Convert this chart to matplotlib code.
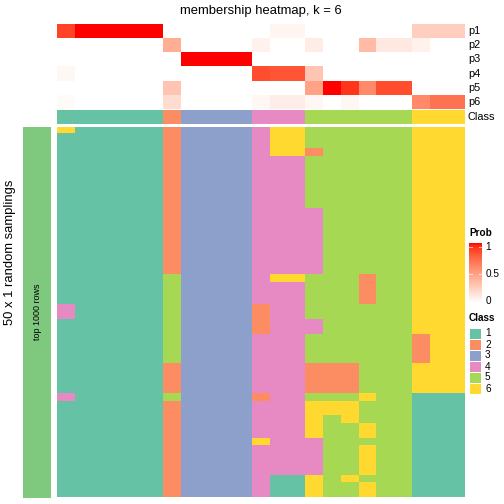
import numpy as np
import matplotlib
matplotlib.use('Agg')
import matplotlib.pyplot as plt
from matplotlib.colors import ListedColormap

plt.rcParams['font.family'] = ['Liberation Sans', 'DejaVu Sans']

# membership probabilities (rows p1..p6, 23 columns)
p1 = [0.88, 1, 1, 1, 1, 1, 0, 0, 0, 0, 0, 0, 0.05, 0.05, 0, 0, 0, 0, 0, 0, 0.25, 0.25, 0.25]
p2 = [0, 0, 0, 0, 0, 0, 0.42, 0, 0, 0, 0, 0.07, 0, 0, 0.1, 0, 0, 0.35, 0.12, 0.12, 0.07, 0, 0]
p3 = [0, 0, 0, 0, 0, 0, 0, 1, 1, 1, 1, 0, 0, 0, 0, 0, 0, 0, 0, 0, 0, 0, 0]
p4 = [0.04, 0, 0, 0, 0, 0, 0, 0, 0, 0, 0, 0.85, 0.82, 0.82, 0.3, 0, 0, 0, 0, 0, 0, 0, 0]
p5 = [0, 0, 0, 0, 0, 0, 0.3, 0, 0, 0, 0, 0, 0, 0, 0.48, 1, 0.92, 0.6, 0.85, 0.85, 0, 0, 0]
p6 = [0.02, 0, 0, 0, 0, 0, 0.18, 0, 0, 0, 0, 0.04, 0.09, 0.09, 0.04, 0, 0.04, 0, 0, 0, 0.6, 0.7, 0.7]
prob_names = ['p1', 'p2', 'p3', 'p4', 'p5', 'p6']

# consensus class per column
col_class = [1, 1, 1, 1, 1, 1, 2, 3, 3, 3, 3, 4, 4, 4, 5, 5, 5, 5, 5, 5, 6, 6, 6]

# class labels from the 50 random samplings (one string per sampling)
samplings = [
    "61111123333466555555666",
    "11111123333466555555666",
    "11111123333466555555666",
    "11111123333466255555666",
    "11111123333444555555666",
    "11111123333444555555666",
    "11111123333444555555666",
    "11111123333444555555666",
    "11111123333444555555666",
    "11111123333444555555666",
    "11111123333444555555666",
    "11111123333444455555666",
    "11111123333444455555666",
    "11111123333444455555666",
    "11111123333444455555666",
    "11111123333444455555666",
    "11111123333444455555666",
    "11111123333444455555666",
    "11111123333444455555666",
    "11111123333444455555666",
    "11111153333466555255666",
    "11111153333444555255666",
    "11111153333444555255666",
    "11111153333444555255666",
    "41111153333244555555666",
    "41111153333244555555666",
    "11111153333244455555666",
    "11111153333244455555666",
    "11111153333444555555266",
    "11111153333444555555266",
    "11111153333444555555266",
    "11111153333444555555266",
    "11111123333444222555666",
    "11111123333444222555666",
    "11111123333444222555666",
    "11111123333444222555666",
    "41111153333244555655111",
    "11111123333444666555111",
    "11111123333444666555111",
    "11111123333444656555111",
    "11111123333444655655111",
    "11111123333444655655111",
    "11111123333644455555111",
    "11111123333444455655111",
    "11111123333444455655111",
    "11111123333444455655111",
    "11111123333444455655111",
    "11111123333411656555111",
    "11111123333411655655111",
    "11111123333411655655111",
]

class_colors = ['#66C2A5', '#FC8D62', '#8DA0CB', '#E78AC3', '#A6D854', '#FFD92F']
class_labels = ['1', '2', '3', '4', '5', '6']


def srgb_to_lab(c):
    c = np.asarray(c, float)
    lin = np.where(c <= 0.04045, c / 12.92, ((c + 0.055) / 1.055) ** 2.4)
    m = np.array([[0.4124, 0.3576, 0.1805],
                  [0.2126, 0.7152, 0.0722],
                  [0.0193, 0.1192, 0.9505]])
    xyz = m @ lin / np.array([0.95047, 1.0, 1.08883])
    f = np.where(xyz > 0.008856, np.cbrt(xyz), 7.787 * xyz + 16 / 116)
    return np.array([116 * f[1] - 16, 500 * (f[0] - f[1]), 200 * (f[1] - f[2])])


def lab_to_srgb(lab):
    L, a, b = lab
    fy = (L + 16) / 116
    fx = fy + a / 500
    fz = fy - b / 200
    f = np.array([fx, fy, fz])
    xyz = np.where(f ** 3 > 0.008856, f ** 3, (f - 16 / 116) / 7.787)
    xyz = xyz * np.array([0.95047, 1.0, 1.08883])
    m = np.array([[3.2406, -1.5372, -0.4986],
                  [-0.9689, 1.8758, 0.0415],
                  [0.0557, -0.2040, 1.0570]])
    lin = m @ xyz
    c = np.where(lin <= 0.0031308, 12.92 * lin, 1.055 * np.clip(lin, 0, None) ** (1 / 2.4) - 0.055)
    return np.clip(c, 0, 1)


# white -> red ramp interpolated in LAB space
lab_w = srgb_to_lab([1, 1, 1])
lab_r = srgb_to_lab([1, 0, 0])
ramp = [lab_to_srgb(lab_w + t * (lab_r - lab_w)) for t in np.linspace(0, 1, 256)]
prob_cmap = ListedColormap(ramp)
class_cmap = ListedColormap(class_colors)

W = 504.0
fig = plt.figure(figsize=(7, 7), dpi=72)


def add_ax(x0, y0, x1, y1):
    ax = fig.add_axes([x0 / W, 1 - y1 / W, (x1 - x0) / W, (y1 - y0) / W])
    ax.set_axis_off()
    return ax


X0, X1 = 57, 465

ax_p = add_ax(X0, 24, X1, 109)
ax_p.imshow(np.array([p1, p2, p3, p4, p5, p6]), cmap=prob_cmap, vmin=0, vmax=1,
            aspect='auto', interpolation='nearest')

ax_c = add_ax(X0, 110, X1, 124)
ax_c.imshow(np.array([col_class]), cmap=class_cmap, vmin=0.5, vmax=6.5,
            aspect='auto', interpolation='nearest')

grid = np.array([[int(ch) for ch in row] for row in samplings])
ax_m = add_ax(X0, 127, X1, 497.5)
ax_m.imshow(grid, cmap=class_cmap, vmin=0.5, vmax=6.5, aspect='auto', interpolation='nearest')

# left annotation bar
ax_l = add_ax(23, 127, 51, 497.5)
ax_l.add_patch(plt.Rectangle((0, 0), 1, 1, color='#7FC97F'))
ax_l.set_xlim(0, 1)
ax_l.set_ylim(0, 1)
ax_l.text(0.5, 0.5, 'top 1000 rows', rotation=90, ha='center', va='center', fontsize=9)

# titles and row names
fig.text(260.5 / W, 1 - 11 / W, 'membership heatmap, k = 6', ha='center', va='center', fontsize=13)
fig.text(10 / W, 1 - 252 / W, '50 x 1 random samplings', rotation=90, ha='center', va='center', fontsize=13)
row_h = (109 - 24) / 6
for i, name in enumerate(prob_names):
    fig.text(468 / W, 1 - (24 + row_h * (i + 0.5)) / W, name, ha='left', va='center', fontsize=11)
fig.text(468 / W, 1 - 117 / W, 'Class', ha='left', va='center', fontsize=11)

# Prob legend
fig.text(469 / W, 1 - 233 / W, 'Prob', ha='left', va='center', fontsize=10, fontweight='bold')
ax_cb = add_ax(469, 243, 482, 303)
ax_cb.imshow(np.linspace(1, 0, 200).reshape(-1, 1), cmap=prob_cmap, vmin=0, vmax=1,
             aspect='auto', extent=(0, 1, -0.04, 1.07))
ax_cb.set_xlim(0, 1)
ax_cb.set_ylim(-0.04, 1.07)
for v in [0.5, 1.0]:
    ax_cb.plot([0, 0.2], [v, v], color='white', lw=1, alpha=0.6)
    ax_cb.plot([0.8, 1], [v, v], color='white', lw=1, alpha=0.6)
for v, lab in [(1, '1'), (0.5, '0.5'), (0, '0')]:
    ax_cb.text(1.25, v, lab, ha='left', va='center', fontsize=10, transform=ax_cb.transData)

# Class legend
fig.text(469 / W, 1 - 318 / W, 'Class', ha='left', va='center', fontsize=10, fontweight='bold')
box_h = 11
for i, (col, lab) in enumerate(zip(class_colors, class_labels)):
    y0 = 328 + i * box_h
    bx = add_ax(469, y0, 481, y0 + box_h)
    bx.add_patch(plt.Rectangle((0, 0), 1, 1, facecolor=col, edgecolor='white', lw=1))
    bx.set_xlim(0, 1)
    bx.set_ylim(0, 1)
    fig.text(485 / W, 1 - (y0 + box_h / 2) / W, lab, ha='left', va='center', fontsize=10)

fig.savefig('out.png', dpi=72, facecolor='white')
